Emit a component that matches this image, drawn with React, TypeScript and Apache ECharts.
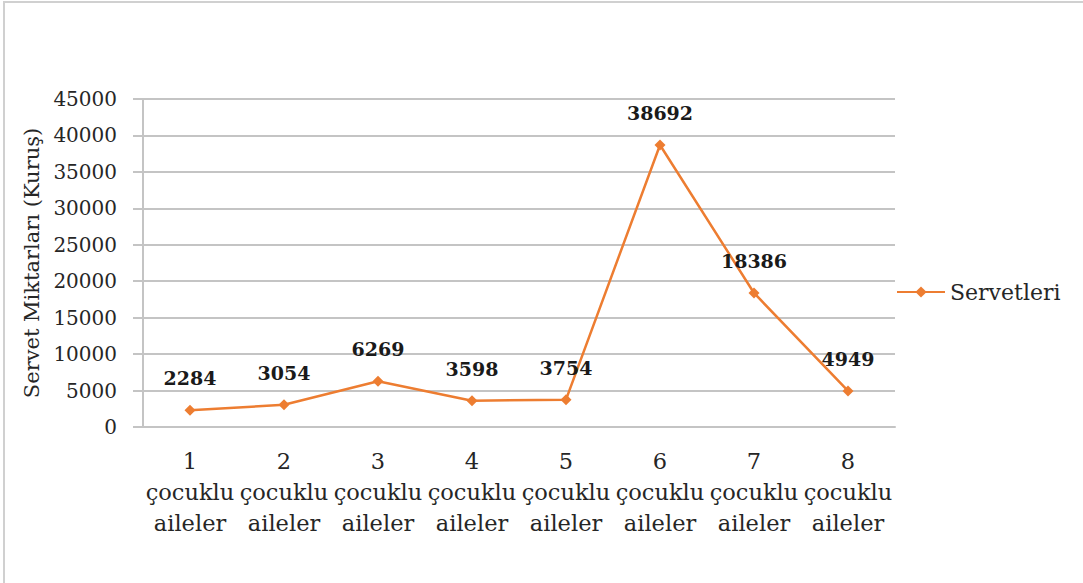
import React, { useEffect, useRef } from "react";
import * as echarts from "echarts";

const categories = ["1\nçocuklu\naileler", "2\nçocuklu\naileler", "3\nçocuklu\naileler", "4\nçocuklu\naileler", "5\nçocuklu\naileler", "6\nçocuklu\naileler", "7\nçocuklu\naileler", "8\nçocuklu\naileler"];
const seriesName = "Servetleri";
const values = [2284, 3054, 6269, 3598, 3754, 38692, 18386, 4949];
const yAxisTitle = "Servet Miktarları (Kuruş)";
const yMin = 0;
const yMax = 45000;
const yInterval = 5000;

const FONT = "'DejaVu Serif', 'Liberation Serif', serif";

export default function App() {
  const ref = useRef<HTMLDivElement>(null);
  useEffect(() => {
    if (!ref.current) return;
    const chart = echarts.init(ref.current, undefined, { renderer: "svg" });
    chart.setOption({
      animation: false,
      backgroundColor: "#ffffff",
      textStyle: { fontFamily: FONT },
      graphic: [
        {
          type: "rect",
          shape: { x: 4, y: 2, width: 1200, height: 700 },
          style: { fill: "none", stroke: "#d0d0d0", lineWidth: 2 },
          silent: true,
        },
      ],
      grid: { left: 143, right: 188, top: 99, bottom: 156, containLabel: false },
      legend: {
        orient: "vertical",
        left: 891,
        top: 276,
        itemWidth: 48,
        itemHeight: 14,
        itemGap: 6,
        textStyle: { fontFamily: FONT, fontSize: 22, color: "#262626" },
        data: [seriesName],
      },
      xAxis: {
        type: "category",
        data: categories,
        boundaryGap: true,
        axisLine: { show: true, lineStyle: { color: "#c4c4c4", width: 2 } },
        axisTick: { show: false },
        axisLabel: {
          interval: 0,
          margin: 18,
          fontFamily: FONT,
          fontSize: 22.5,
          lineHeight: 31,
          color: "#262626",
          align: "center",
        },
      },
      yAxis: {
        type: "value",
        min: yMin,
        max: yMax,
        interval: yInterval,
        name: yAxisTitle,
        nameLocation: "middle",
        nameGap: 93,
        nameTextStyle: { fontFamily: FONT, fontSize: 21, color: "#262626" },
        axisLine: { show: true, lineStyle: { color: "#c4c4c4", width: 2 } },
        axisTick: { show: true, inside: false, length: 10, lineStyle: { color: "#c4c4c4", width: 2 } },
        axisLabel: {
          margin: 26,
          fontFamily: FONT,
          fontSize: 20,
          color: "#262626",
          formatter: (v: number) => String(v),
        },
        splitLine: { show: true, lineStyle: { color: "#c4c4c4", width: 2 } },
      },
      series: [
        {
          name: seriesName,
          type: "line",
          data: values,
          symbol: "diamond",
          symbolSize: 11,
          lineStyle: { color: "#ED7D31", width: 2.5 },
          itemStyle: { color: "#ED7D31" },
          label: {
            show: true,
            position: "top",
            distance: 17,
            fontFamily: FONT,
            fontSize: 19,
            fontWeight: "bold",
            color: "#1a1a1a",
          },
        },
      ],
    });
    return () => chart.dispose();
  }, []);
  return (
    <div
      ref={ref}
      style={{ position: "fixed", left: 0, top: 0, width: 1083, height: 583 }}
    />
  );
}
